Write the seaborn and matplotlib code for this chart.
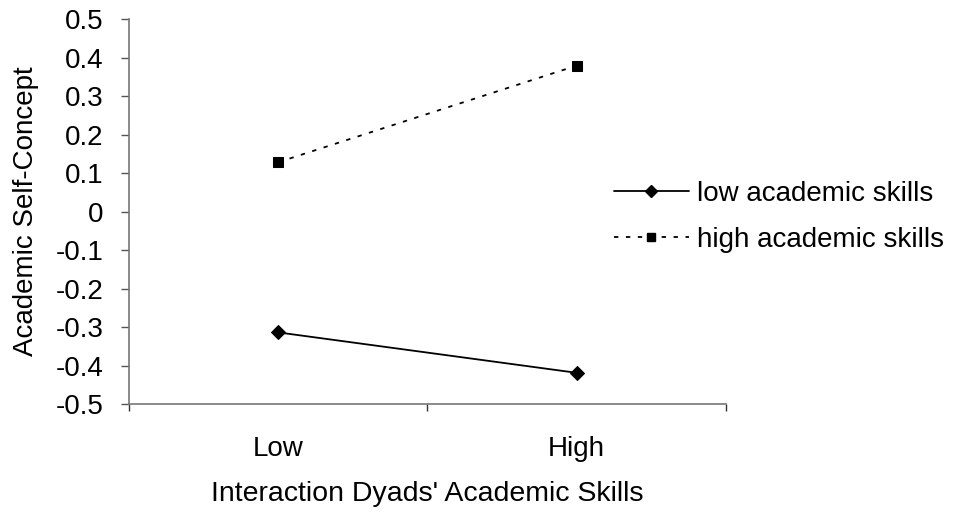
import numpy as np
import pandas as pd
import seaborn as sns
import matplotlib
matplotlib.use('Agg')
import matplotlib.pyplot as plt
from matplotlib.ticker import FixedLocator, FuncFormatter

# values
dyad_levels = ['Low', 'High']
groups = ['low academic skills', 'high academic skills']
low_skills = [-0.314, -0.419]
high_skills = [0.128, 0.379]
y_ticks = [-0.5, -0.4, -0.3, -0.2, -0.1, 0.0, 0.1, 0.2, 0.3, 0.4, 0.5]

df = pd.DataFrame({
    'dyad': dyad_levels * 2,
    'group': [groups[0]] * 2 + [groups[1]] * 2,
    'value': low_skills + high_skills,
})

sns.set_theme(style='white')
plt.rcParams['font.family'] = ['Liberation Sans', 'DejaVu Sans']
plt.rcParams['axes.unicode_minus'] = False
plt.rcParams['text.color'] = 'black'
plt.rcParams['axes.labelcolor'] = 'black'
fs = 20

fig = plt.figure(figsize=(9.65, 5.14), dpi=100)
ax = fig.add_axes([0.1336, 0.214, 0.6187, 0.749])

sns.lineplot(data=df, x='dyad', y='value', hue='group', style='group',
             palette={groups[0]: 'black', groups[1]: 'black'},
             markers={groups[0]: 'D', groups[1]: 's'},
             dashes={groups[0]: '', groups[1]: (2.4, 4.2)},
             markersize=7, linewidth=1.3, markeredgecolor='black',
             ax=ax, legend=False)

ax.set_xlim(-0.5, 1.5)
ax.set_ylim(-0.5, 0.5)
ax.yaxis.set_major_locator(FixedLocator(y_ticks))
ax.yaxis.set_major_formatter(FuncFormatter(lambda v, p: '0' if abs(v) < 1e-9 else f'{v:.1f}'))
ax.set_xticks([0, 1])
ax.set_xticklabels(dyad_levels)
ax.xaxis.set_minor_locator(FixedLocator([-0.5, 0.5, 1.5]))
ax.tick_params(axis='x', which='major', length=0, pad=23, labelsize=fs, colors='black')
ax.tick_params(axis='x', which='minor', length=5, width=1, direction='out', color='#333333', bottom=True)
ax.tick_params(axis='y', which='major', length=6, width=1, direction='out', color='#555555',
               left=True, pad=12.5, labelsize=fs, labelcolor='black')

for s in ['top', 'right']:
    ax.spines[s].set_visible(False)
for s in ['left', 'bottom']:
    ax.spines[s].set_color('#777777')
    ax.spines[s].set_linewidth(1.2)

ax.set_xlabel("Interaction Dyads' Academic Skills", fontsize=20.5, labelpad=13.5, color='black')
ax.set_ylabel('Academic Self-Concept', fontsize=fs, labelpad=12, color='black')

h1, = ax.plot([], [], color='black', lw=1.3, marker='D', markersize=6)
h2, = ax.plot([], [], color='black', lw=1.3, ls=(0, (2.4, 4.2)), marker='s', markersize=6)
fig.legend([h1, h2], groups, loc='center left', bbox_to_anchor=(0.636, 0.578),
           frameon=False, fontsize=fs, handlelength=2.7, handletextpad=0.3,
           labelspacing=0.72, borderpad=0, borderaxespad=0)

fig.savefig('out.png', dpi=100)
